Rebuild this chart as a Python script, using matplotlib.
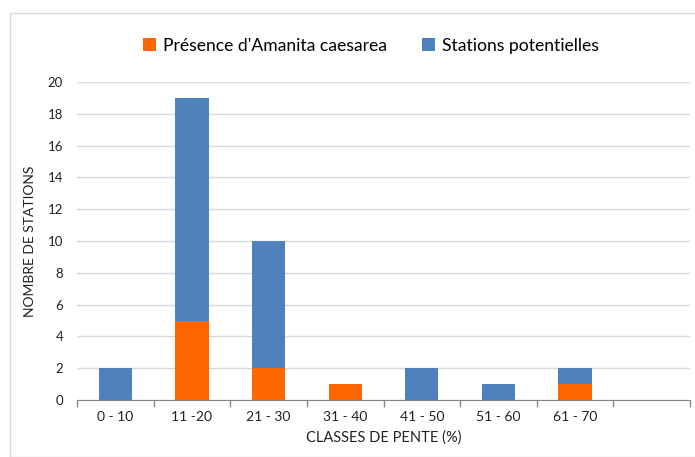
import matplotlib.pyplot as plt
from matplotlib.patches import Rectangle
import numpy as np

plt.rcParams['font.family'] = ['Lato', 'DejaVu Sans']

# données
classes = ['0 - 10', '11 -20', '21 - 30', '31 - 40', '41 - 50', '51 - 60', '61 - 70', '']
presence = [0, 5, 2, 1, 0, 0, 1, 0]
potentielles = [2, 14, 8, 0, 2, 1, 1, 0]

ORANGE = '#FF6600'
BLUE = '#4F81BD'

fig = plt.figure(figsize=(6.95, 4.57), dpi=100)
ax = fig.add_axes([77 / 695, 1 - 400 / 457, 613 / 695, 318 / 457])

x = np.arange(len(classes))
w = 1 / 2.3
ax.bar(x, presence, width=w, color=ORANGE, label="Présence d'Amanita caesarea", zorder=3)
ax.bar(x, potentielles, width=w, bottom=presence, color=BLUE,
       label='Stations potentielles', zorder=3)

ax.set_xlim(-0.5, len(classes) - 0.5)
ax.set_ylim(0, 20)
ax.set_yticks(range(0, 21, 2))
ax.yaxis.grid(True, color='#D9D9D9', linewidth=1, zorder=0)
ax.tick_params(axis='y', length=0, labelsize=9.5, pad=10, labelcolor='#222222')

# graduations x aux limites des classes, étiquettes au centre
ax.set_xticks(np.arange(-0.5, len(classes), 1))
ax.set_xticklabels([])
ax.set_xticks(x, minor=True)
ax.set_xticklabels(classes, minor=True)
ax.tick_params(axis='x', which='major', length=5, width=1, color='#868686', direction='out')
ax.tick_params(axis='x', which='minor', length=0, labelsize=10, pad=8, labelcolor='#222222')

for s in ['left', 'right', 'top']:
    ax.spines[s].set_visible(False)
ax.spines['bottom'].set_color('#868686')

ax.set_ylabel('NOMBRE DE STATIONS', fontsize=10, labelpad=8, color='#222222')
ax.set_xlabel('CLASSES DE PENTE (%)', fontsize=10.5, labelpad=5, color='#222222')

fig.legend(loc='center', bbox_to_anchor=(371 / 695, 1 - 46 / 457), ncol=2,
           frameon=False, fontsize=12.6, handlelength=0.75, handleheight=0.75,
           handletextpad=0.4, columnspacing=2.0)

# cadre du graphique
fig.patches.append(Rectangle((10 / 695, 0), 1, 1 - 13 / 457, transform=fig.transFigure,
                             fill=False, edgecolor='#D9D9D9', linewidth=1))

fig.savefig('out.png', dpi=100)
